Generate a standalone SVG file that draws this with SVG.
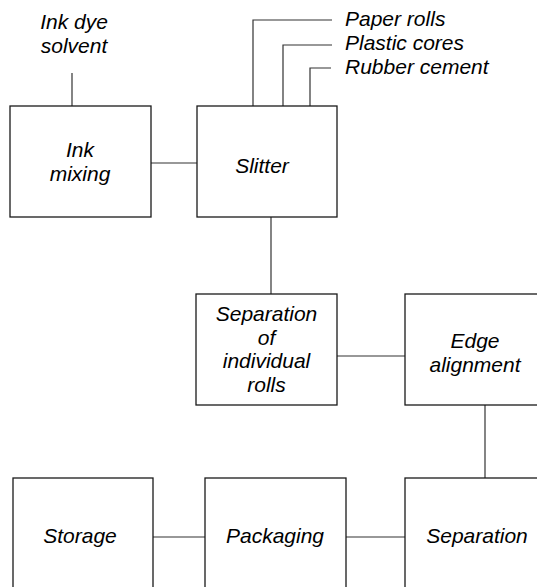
<svg xmlns="http://www.w3.org/2000/svg" width="537" height="587" viewBox="0 0 537 587">
  <style>
    .box { fill: #ffffff; stroke: #1a1a1a; stroke-width: 1.3; }
    .link { fill: none; stroke: #333333; stroke-width: 1.2; }
    .lbl { font-family: "Liberation Sans", Arial, sans-serif; font-style: italic; font-size: 21px; fill: #000000; }
    .mid { text-anchor: middle; }
  </style>
  <rect width="537" height="587" fill="#ffffff"/>

  <!-- connectors -->
  <g id="connectors">
    <line class="link" x1="72" y1="73" x2="72" y2="106"/>
    <polyline class="link" points="253,106 253,20 332,20"/>
    <polyline class="link" points="283,106 283,45 332,45"/>
    <polyline class="link" points="310,106 310,68 331,68"/>
    <line class="link" x1="151" y1="163" x2="197" y2="163"/>
    <line class="link" x1="271" y1="217" x2="271" y2="294"/>
    <line class="link" x1="337" y1="356" x2="405" y2="356"/>
    <line class="link" x1="485" y1="405" x2="485" y2="478"/>
    <line class="link" x1="153" y1="537" x2="205" y2="537"/>
    <line class="link" x1="346" y1="537" x2="405" y2="537"/>
  </g>

  <!-- input labels -->
  <g id="inputs">
    <text class="lbl mid" x="74" y="29">Ink dye</text>
    <text class="lbl mid" x="74" y="53">solvent</text>
    <text class="lbl" x="345" y="26">Paper rolls</text>
    <text class="lbl" x="345" y="50">Plastic cores</text>
    <text class="lbl" x="345" y="74">Rubber cement</text>
  </g>

  <g id="ink-mixing">
    <rect class="box" x="10" y="106" width="141" height="111"/>
    <text class="lbl mid" x="80" y="157">Ink</text>
    <text class="lbl mid" x="80" y="181">mixing</text>
  </g>

  <g id="slitter">
    <rect class="box" x="197" y="106" width="140" height="111"/>
    <text class="lbl mid" x="262" y="173">Slitter</text>
  </g>

  <g id="separation-rolls">
    <rect class="box" x="196" y="294" width="141" height="111"/>
    <text class="lbl mid" x="266.5" y="321">Separation</text>
    <text class="lbl mid" x="266.5" y="344.5">of</text>
    <text class="lbl mid" x="266.5" y="368">individual</text>
    <text class="lbl mid" x="266.5" y="391.5">rolls</text>
  </g>

  <g id="edge-alignment">
    <rect class="box" x="405" y="294" width="141" height="111"/>
    <text class="lbl mid" x="475" y="348">Edge</text>
    <text class="lbl mid" x="475" y="372">alignment</text>
  </g>

  <g id="storage">
    <rect class="box" x="13" y="478" width="140" height="112"/>
    <text class="lbl mid" x="80" y="543">Storage</text>
  </g>

  <g id="packaging">
    <rect class="box" x="205" y="478" width="141" height="112"/>
    <text class="lbl mid" x="275" y="543">Packaging</text>
  </g>

  <g id="separation">
    <rect class="box" x="405" y="478" width="141" height="112"/>
    <text class="lbl mid" x="477" y="543">Separation</text>
  </g>
</svg>
